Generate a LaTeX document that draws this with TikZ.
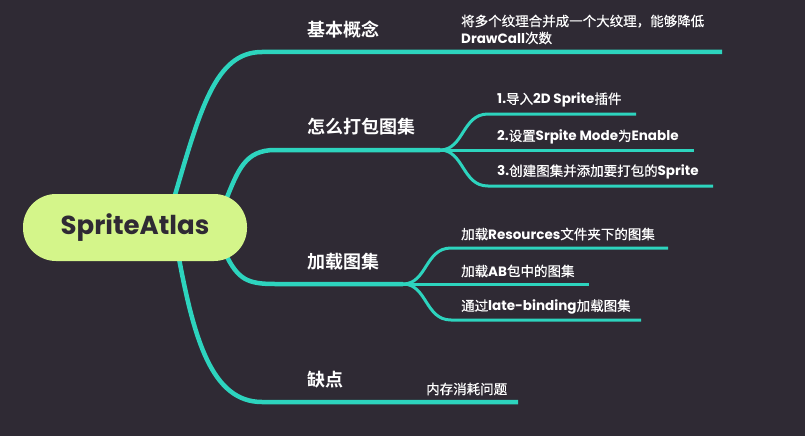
\documentclass[tikz,border=0pt]{standalone}
\usepackage{fontspec}
\setmainfont{Poppins}
\newfontfamily\cjk{Noto Sans CJK SC}[BoldFont={Noto Sans CJK SC Bold}]
\newfontfamily\cjkm{Noto Sans CJK SC}[FakeBold=0.6]
\usepackage{tikz}
\usetikzlibrary{positioning,backgrounds}
\definecolor{bgdark}{RGB}{47,42,52}
\definecolor{branchc}{RGB}{45,212,190}
\definecolor{rootgreen}{RGB}{212,245,138}

\begin{document}
\begin{tikzpicture}[x=1pt,y=-1pt,
    root/.style={rounded corners=33pt,fill=rootgreen,text=bgdark,font=\fontsize{26}{30}\selectfont\bfseries,minimum width=224pt,minimum height=67pt},
    topic/.style={anchor=west,inner sep=0pt,text=white,font=\fontsize{18}{22}\selectfont\bfseries},
    leaf/.style={anchor=west,inner sep=0pt,text=white,align=left,font=\fontsize{13.5}{17}\selectfont\bfseries},
    main/.style={draw=branchc,line width=4.5pt},
    sub/.style={draw=branchc,line width=3pt}]
   \useasboundingbox (0,0) rectangle (805,436);
   \node[root] (root) at (135,227.5) {SpriteAtlas};
   % topics
   \node[topic] (basic) at (307,30)  {\cjk 基本概念};
   \node[topic] (pack)  at (307,127) {\cjk 怎么打包图集};
   \node[topic] (load)  at (307,262) {\cjk 加载图集};
   \node[topic] (cons)  at (307,380) {\cjk 缺点};
   % leaves
   \node[leaf] (basicd) at (461,29.5) {{\cjkm\mdseries 将多个纹理合并成一个大纹理，能够降低}\\DrawCall{\cjkm\mdseries 次数}};
   \node[leaf] (p1) at (497,100) {1.{\cjkm\mdseries 导入}2D Sprite{\cjkm\mdseries 插件}};
   \node[leaf] (p2) at (497,137) {2.{\cjkm\mdseries 设置}Srpite Mode{\cjkm\mdseries 为}Enable};
   \node[leaf] (p3) at (497,172) {3.{\cjkm\mdseries 创建图集并添加要打包的}Sprite};
   \node[leaf] (l1) at (461,234) {{\cjkm\mdseries 加载}Resources{\cjkm\mdseries 文件夹下的图集}};
   \node[leaf] (l2) at (461,271) {{\cjkm\mdseries 加载}AB{\cjkm\mdseries 包中的图集}};
   \node[leaf] (l3) at (461,307) {{\cjkm\mdseries 通过}late-binding{\cjkm\mdseries 加载图集}};
   \node[leaf] (c1) at (426,389) {\cjkm\mdseries 内存消耗问题};
   % line ends and forks
   \coordinate (e1) at (722,52);
   \coordinate (f2) at (440,150);
   \coordinate (e21) at (636,114);
   \coordinate (e22) at (694,150);
   \coordinate (e23) at (713,186);
   \coordinate (f3) at (403,284);
   \coordinate (e31) at (668,248);
   \coordinate (e32) at (589,284);
   \coordinate (e33) at (641,320);
   \coordinate (e4) at (518,402);
   \begin{scope}[on background layer]
   \fill[bgdark] (0,0) rectangle (805,436);
   \draw[main] ([xshift=38pt,yshift=-8pt]root.north) .. controls (200,110) and (215,52) .. (262,52) -- (e1);
   \draw[main] ([xshift=-22pt,yshift=-8pt]root.north east) .. controls (238,170) and (245,150) .. (275,150) -- (f2);
   \draw[main] ([xshift=-22pt,yshift=8pt]root.south east) .. controls (238,280) and (248,284) .. (275,284) -- (f3);
   \draw[main] ([xshift=43pt,yshift=8pt]root.south) .. controls (194,340) and (212,402) .. (262,402) -- (e4);
   \draw[sub] (f2) .. controls (464,150) and (462,114) .. (488,114) -- (e21);
   \draw[sub] (f2) -- (e22);
   \draw[sub] (f2) .. controls (464,150) and (462,186) .. (488,186) -- (e23);
   \draw[sub] (f3) .. controls (427,284) and (425,248) .. (451,248) -- (e31);
   \draw[sub] (f3) -- (e32);
   \draw[sub] (f3) .. controls (427,284) and (425,320) .. (451,320) -- (e33);
   \end{scope}
  \end{tikzpicture}
\end{document}
